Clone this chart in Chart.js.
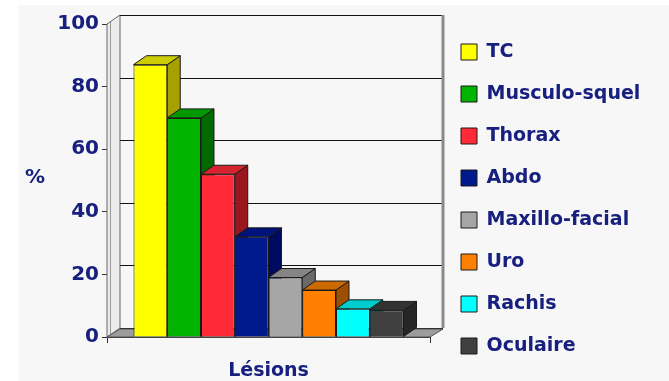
<!DOCTYPE html>
<html lang="fr">
<head>
<meta charset="utf-8">
<title>Lésions</title>
<script src="https://cdn.jsdelivr.net/npm/chart.js@4/dist/chart.umd.min.js"></script>
<style>
  html, body { margin: 0; padding: 0; background: #ffffff; }
  #wrap { width: 669px; height: 381px; }
</style>
</head>
<body>
<div id="wrap"><canvas id="graficoLesions" width="669" height="381"></canvas></div>
<script>
// Données
const categories = ['Lésions'];
const seriesNames = ['TC', 'Musculo-squel', 'Thorax', 'Abdo', 'Maxillo-facial', 'Uro', 'Rachis', 'Oculaire'];
const seriesValues = [87, 70, 52, 32, 19, 15, 9, 8.5];
const yTicks = [0, 20, 40, 60, 80, 100];

// Couleurs : face avant, dessus, côté
const frontColors = ['#ffff00', '#00b400', '#ff2a36', '#001a8c', '#a6a6a6', '#ff8000', '#00ffff', '#404040'];
const topColors   = ['#cccc00', '#009a00', '#d42430', '#00137a', '#858585', '#cc6a00', '#00cccc', '#333333'];
const sideColors  = ['#a8a000', '#006a00', '#9c1620', '#000a5e', '#6a6a6a', '#9c4f00', '#009c9c', '#262626'];

const navy = '#17207f';
const fontFamily = '"DejaVu Sans", Verdana, sans-serif';
const depth = { dx: 13, dy: 9 }; // décalage de la perspective

function poly(ctx, pts, fill, stroke) {
    ctx.beginPath();
    ctx.moveTo(pts[0][0], pts[0][1]);
    for (let i = 1; i < pts.length; i++) ctx.lineTo(pts[i][0], pts[i][1]);
    ctx.closePath();
    if (fill) { ctx.fillStyle = fill; ctx.fill(); }
    if (stroke) { ctx.strokeStyle = stroke; ctx.lineWidth = 1; ctx.stroke(); }
}

// Murs, sol, quadrillage et faces 3D des barres
const scene3d = {
    id: 'scene3d',
    beforeDraw(chart) {
        const ctx = chart.ctx;
        ctx.save();
        ctx.fillStyle = '#ffffff';
        ctx.fillRect(0, 0, chart.width, chart.height);
        ctx.fillStyle = '#f7f7f7';
        ctx.fillRect(19, 5, chart.width - 19, chart.height - 5);
        ctx.restore();
    },
    beforeDatasetsDraw(chart) {
        const ctx = chart.ctx;
        const { left, right, top, bottom } = chart.chartArea;
        const ys = chart.scales.y;
        const { dx, dy } = depth;
        ctx.save();

        // mur gauche
        poly(ctx, [[left, bottom], [left, top], [left + dx, top - dy], [left + dx, bottom - dy]], '#ececec', '#666');
        ctx.strokeStyle = '#9a9a9a';
        ctx.beginPath();
        ctx.moveTo(left + 3.5, top - 2); ctx.lineTo(left + 3.5, bottom);
        ctx.stroke();

        // quadrillage du fond
        ctx.strokeStyle = '#111';
        ctx.lineWidth = 1;
        yTicks.forEach(v => {
            const py = Math.round(ys.getPixelForValue(v) - dy) + 0.5;
            ctx.beginPath();
            ctx.moveTo(left + dx, py);
            ctx.lineTo(right + dx, py);
            ctx.stroke();
        });

        // mur droit
        ctx.strokeStyle = '#8a8a8a';
        ctx.lineWidth = 3;
        ctx.beginPath();
        ctx.moveTo(right + dx, top - dy);
        ctx.lineTo(right + dx, bottom - dy);
        ctx.stroke();

        // sol
        poly(ctx, [[left, bottom], [right, bottom], [right + dx, bottom - dy + 1], [left + dx, bottom - dy + 1]], '#9c9c9c', '#555');

        // côtés et dessus des barres, de gauche à droite
        chart.data.datasets.forEach((ds, i) => {
            const bar = chart.getDatasetMeta(i).data[0];
            if (!bar) return;
            const l = bar.x - bar.width / 2;
            const r = bar.x + bar.width / 2;
            const t = bar.y;
            const b = bar.base;
            poly(ctx, [[r, t], [r + dx, t - dy], [r + dx, b - dy], [r, b]], sideColors[i], '#1a1a1a');
            poly(ctx, [[l, t], [l + dx, t - dy], [r + dx, t - dy], [r, t]], topColors[i], '#1a1a1a');
        });
        ctx.restore();
    },
    afterDraw(chart) {
        const ctx = chart.ctx;
        const { top, bottom } = chart.chartArea;
        ctx.save();
        ctx.fillStyle = navy;
        ctx.font = 'bold 20px ' + fontFamily;
        ctx.textAlign = 'center';
        ctx.textBaseline = 'middle';
        ctx.fillText('%', 35, (top + bottom) / 2 - 3);
        ctx.restore();
    }
};

// Largeur fixe de la légende
const legendWidth = {
    id: 'legendWidth',
    beforeInit(chart) {
        const fit = chart.legend.fit;
        chart.legend.fit = function () {
            fit.call(this);
            this.width = 231;
        };
    }
};

// axe vide qui réserve de la place (sans graduation ni trait)
const spacer = (position, size) => ({
    type: 'linear',
    position,
    grid: { display: false },
    border: { display: false },
    ticks: { display: false },
    afterFit: s => {
        if (s.isHorizontal()) s.height = size; else s.width = size;
    }
});

document.addEventListener('DOMContentLoaded', () => {
    const ctx = document.getElementById('graficoLesions').getContext('2d');

    new Chart(ctx, {
        type: 'bar',
        data: {
            labels: categories,
            datasets: seriesNames.map((name, i) => ({
                label: name,
                data: [seriesValues[i]],
                backgroundColor: frontColors[i],
                borderColor: '#1a1a1a',
                borderWidth: 1,
                barPercentage: 1,
                categoryPercentage: 0.836
            }))
        },
        options: {
            responsive: false,
            animation: false,
            layout: { padding: { top: 17, bottom: 0, left: 0, right: 0 } },
            plugins: {
                tooltip: { enabled: false },
                legend: {
                    position: 'right',
                    labels: {
                        color: navy,
                        font: { family: fontFamily, size: 19, weight: 'bold' },
                        boxWidth: 16,
                        boxHeight: 16,
                        padding: 23
                    }
                }
            },
            scales: {
                x: {
                    grid: { drawOnChartArea: false, tickLength: 6, color: '#333' },
                    border: { color: '#333' },
                    ticks: {
                        color: navy,
                        padding: 17,
                        font: { family: fontFamily, size: 19, weight: 'bold' }
                    },
                    afterFit: s => { s.height = 44; }
                },
                y: {
                    min: 0,
                    max: 100,
                    afterBuildTicks: s => { s.ticks = yTicks.map(v => ({ value: v })); },
                    grid: { drawOnChartArea: false, tickLength: 5, color: '#333' },
                    border: { color: '#333' },
                    ticks: {
                        color: navy,
                        padding: 3,
                        font: { family: fontFamily, size: 20, weight: 'bold' }
                    },
                    afterFit: s => { s.width = 107; }
                },
                // place pour la profondeur du fond
                xTop: spacer('top', 7),
                yRight: spacer('right', 8)
            }
        },
        plugins: [scene3d, legendWidth]
    });
});
</script>
</body>
</html>
